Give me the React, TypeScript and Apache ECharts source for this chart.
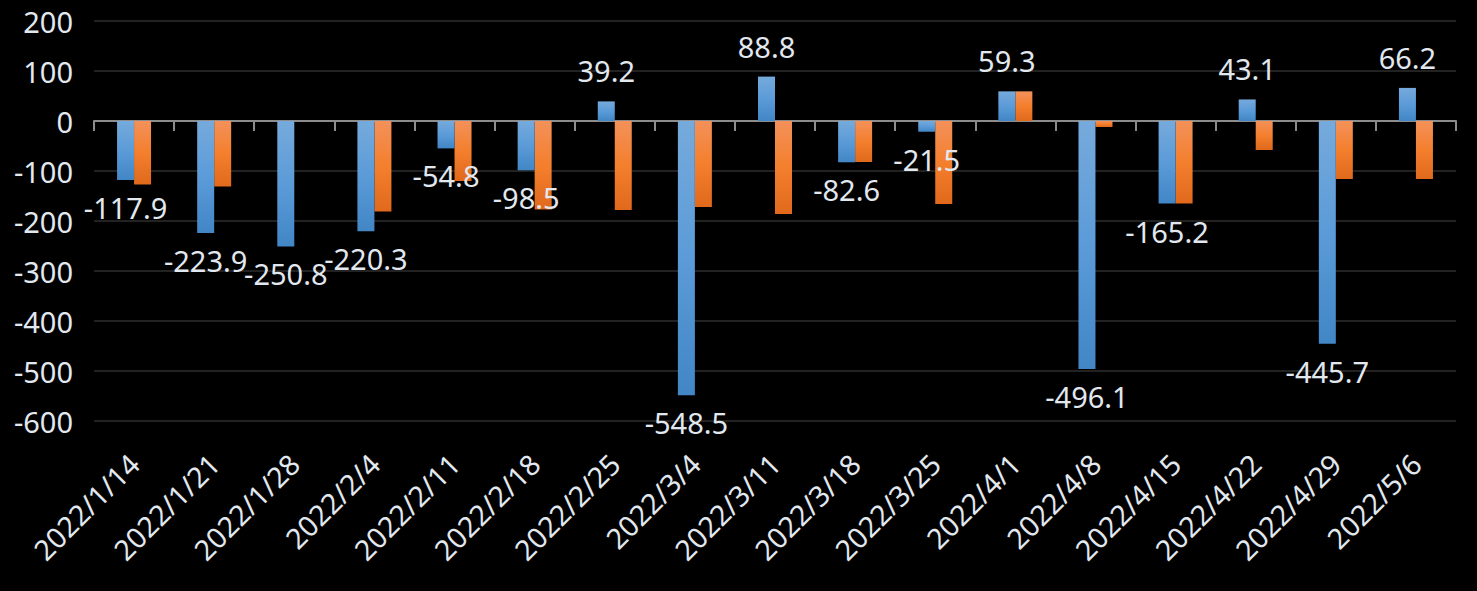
import React, { useEffect, useRef } from "react";
import * as echarts from "echarts";

const categories = [
  "2022/1/14", "2022/1/21", "2022/1/28", "2022/2/4", "2022/2/11", "2022/2/18",
  "2022/2/25", "2022/3/4", "2022/3/11", "2022/3/18", "2022/3/25", "2022/4/1",
  "2022/4/8", "2022/4/15", "2022/4/22", "2022/4/29", "2022/5/6",
];
const blueValues = [
  -117.9, -223.9, -250.8, -220.3, -54.8, -98.5, 39.2, -548.5, 88.8, -82.6,
  -21.5, 59.3, -496.1, -165.2, 43.1, -445.7, 66.2,
];
const orangeValues = [
  -127, -131, 0, -181, -120, -177, -178, -172, -186, -82,
  -166, 59.3, -12, -165, -58, -116, -116,
];
const yTicks = { min: -600, max: 200, interval: 100 };

const FONT = "Noto Sans";
const TEXT = "#e2e8ef";

export default function App() {
  const ref = useRef<HTMLDivElement>(null);
  useEffect(() => {
    if (!ref.current) return;
    const chart = echarts.init(ref.current, null, { renderer: "svg" });
    const blueGrad = new echarts.graphic.LinearGradient(0, 0, 0, 1, [
      { offset: 0, color: "#76aadc" },
      { offset: 0.5, color: "#5b9bd8" },
      { offset: 1, color: "#4286c6" },
    ]);
    const orangeGrad = new echarts.graphic.LinearGradient(0, 0, 0, 1, [
      { offset: 0, color: "#f3915a" },
      { offset: 0.5, color: "#f47f2d" },
      { offset: 1, color: "#e0691c" },
    ]);
    chart.setOption({
      animation: false,
      backgroundColor: "#000000",
      grid: { left: 94, right: 21, top: 21, bottom: 170, containLabel: false },
      xAxis: [
        {
          type: "category",
          data: categories,
          position: "bottom",
          axisLine: { onZero: true, lineStyle: { color: "#8c8c8c", width: 2 } },
          axisTick: { show: true, length: 10, lineStyle: { color: "#8c8c8c", width: 2 } },
          axisLabel: { show: false },
          splitLine: { show: false },
        },
        {
          type: "category",
          data: categories,
          position: "bottom",
          axisLine: { show: false, onZero: false },
          axisTick: { show: false },
          axisLabel: {
            show: true,
            rotate: 45,
            margin: 38,
            color: TEXT,
            fontFamily: FONT,
            fontSize: 28.5,
            interval: 0,
          },
          splitLine: { show: false },
        },
      ],
      yAxis: {
        type: "value",
        min: yTicks.min,
        max: yTicks.max,
        interval: yTicks.interval,
        axisLine: { show: false },
        axisTick: { show: false },
        axisLabel: { color: TEXT, fontFamily: FONT, fontSize: 29, margin: 21 },
        splitLine: { lineStyle: { color: "#222222", width: 2 } },
      },
      series: [
        {
          type: "bar",
          xAxisIndex: 0,
          data: blueValues.map((v) => ({
            value: v,
            label: { position: v < 0 ? "bottom" : "top", distance: v < 0 ? 13 : 16 },
          })),
          barWidth: 17,
          barGap: "0%",
          itemStyle: { color: blueGrad },
          label: {
            show: true,
            color: TEXT,
            fontFamily: FONT,
            fontSize: 29,
            formatter: (p: any) => Number(p.value).toFixed(1),
          },
        },
        {
          type: "bar",
          xAxisIndex: 0,
          data: orangeValues,
          barWidth: 17,
          barGap: "0%",
          itemStyle: { color: orangeGrad },
          z: 1,
        },
      ],
    });
    return () => chart.dispose();
  }, []);
  return (
    <div
      ref={ref}
      style={{ position: "fixed", left: 0, top: 0, width: 1477, height: 591 }}
    />
  );
}
